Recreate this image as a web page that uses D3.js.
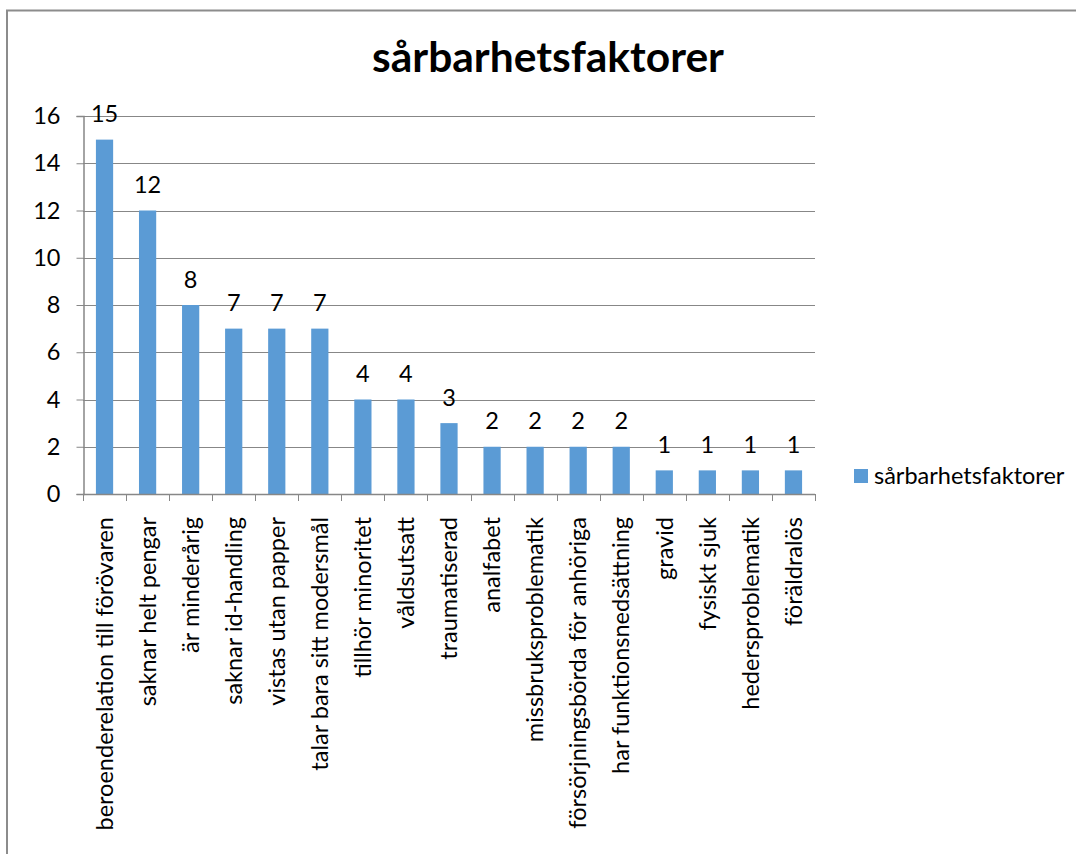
<!DOCTYPE html>
<html>
<head>
<meta charset="utf-8">
<script src="https://cdn.jsdelivr.net/npm/d3@7"></script>
<style>
  html, body { margin: 0; padding: 0; background: #fff; }
  svg { display: block; font-family: Lato, "Open Sans", sans-serif; }
</style>
</head>
<body>
<svg id="chart" width="1076" height="854"></svg>
<script>
const title = "sårbarhetsfaktorer";
const seriesName = "sårbarhetsfaktorer";
const categories = [
  "beroenderelation till förövaren",
  "saknar helt pengar",
  "är minderårig",
  "saknar id-handling",
  "vistas utan papper",
  "talar bara sitt modersmål",
  "tillhör minoritet",
  "våldsutsatt",
  "traumatiserad",
  "analfabet",
  "missbruksproblematik",
  "försörjningsbörda för anhöriga",
  "har funktionsnedsättning",
  "gravid",
  "fysiskt sjuk",
  "hedersproblematik",
  "föräldralös"
];
const values = [15, 12, 8, 7, 7, 7, 4, 4, 3, 2, 2, 2, 2, 1, 1, 1, 1];
const yTicks = [0, 2, 4, 6, 8, 10, 12, 14, 16];

const svg = d3.select("#chart");
const barColor = "#5B9BD5";
const axisColor = "#878787";
const labelSize = 23.5;

// outer chart border (extends beyond the viewport right/bottom)
svg.append("rect")
  .attr("x", 7).attr("y", 10.5)
  .attr("width", 1200).attr("height", 1000)
  .attr("fill", "none").attr("stroke", "#8c8c8c").attr("stroke-width", 2);

const plot = { left: 83, right: 815, top: 116, bottom: 494 };

const x = d3.scaleBand()
  .domain(categories)
  .range([plot.left, plot.right])
  .paddingInner(0.6)
  .paddingOuter(0.3);

const y = d3.scaleLinear().domain([0, 16]).range([plot.bottom, plot.top]);

// gridlines
svg.append("g")
  .selectAll("line")
  .data(yTicks.filter(d => d > 0))
  .join("line")
  .attr("x1", plot.left).attr("x2", plot.right)
  .attr("y1", d => Math.round(y(d)) + 0.5).attr("y2", d => Math.round(y(d)) + 0.5)
  .attr("stroke", axisColor).attr("stroke-width", 1);

// y axis
const yAxis = svg.append("g")
  .attr("transform", `translate(${plot.left + 0.5},0)`)
  .call(d3.axisLeft(y).tickValues(yTicks).tickSize(7).tickPadding(16).tickFormat(d3.format("d")));
yAxis.select(".domain").attr("stroke", axisColor).attr("stroke-width", 1.5);
yAxis.selectAll(".tick line").attr("stroke", axisColor);
yAxis.selectAll(".tick text")
  .attr("fill", "#000").style("font-size", labelSize + "px")
  .style("font-family", "Lato, sans-serif");

// bars
svg.append("g")
  .selectAll("rect")
  .data(values)
  .join("rect")
  .attr("x", (d, i) => x(categories[i]))
  .attr("y", d => y(d))
  .attr("width", x.bandwidth())
  .attr("height", d => y(0) - y(d))
  .attr("fill", barColor);

// x axis
const step = x.step();
const xAxisG = svg.append("g");
xAxisG.append("line")
  .attr("x1", plot.left).attr("x2", plot.right)
  .attr("y1", plot.bottom + 0.5).attr("y2", plot.bottom + 0.5)
  .attr("stroke", axisColor).attr("stroke-width", 1.5);
xAxisG.selectAll("line.tk")
  .data(d3.range(categories.length + 1))
  .join("line").attr("class", "tk")
  .attr("x1", i => Math.round(plot.left + i * step) + 0.5)
  .attr("x2", i => Math.round(plot.left + i * step) + 0.5)
  .attr("y1", plot.bottom).attr("y2", plot.bottom + 7)
  .attr("stroke", axisColor);

// x labels rotated
xAxisG.selectAll("text")
  .data(categories)
  .join("text")
  .attr("transform", d => `translate(${x(d) + x.bandwidth() / 2},517) rotate(-90)`)
  .attr("text-anchor", "end")
  .attr("dy", "0.35em")
  .style("font-size", labelSize + "px")
  .attr("fill", "#000")
  .text(d => d);

// data labels
svg.append("g")
  .selectAll("text")
  .data(values)
  .join("text")
  .attr("x", (d, i) => x(categories[i]) + x.bandwidth() / 2)
  .attr("y", d => y(d) - 17.5)
  .attr("text-anchor", "middle")
  .style("font-size", labelSize + "px")
  .attr("fill", "#000")
  .text(d => d);

// title
svg.append("text")
  .attr("x", 548).attr("y", 72)
  .attr("text-anchor", "middle")
  .style("font-size", "42.5px").style("font-weight", "bold")
  .attr("fill", "#000")
  .text(title);

// legend
const lg = svg.append("g").attr("transform", "translate(854,469)");
lg.append("rect").attr("width", 14).attr("height", 14).attr("fill", barColor);
lg.append("text").attr("x", 20).attr("y", 7).attr("dy", "0.35em")
  .style("font-size", labelSize + "px").attr("fill", "#000").text(seriesName);
</script>
</body>
</html>
